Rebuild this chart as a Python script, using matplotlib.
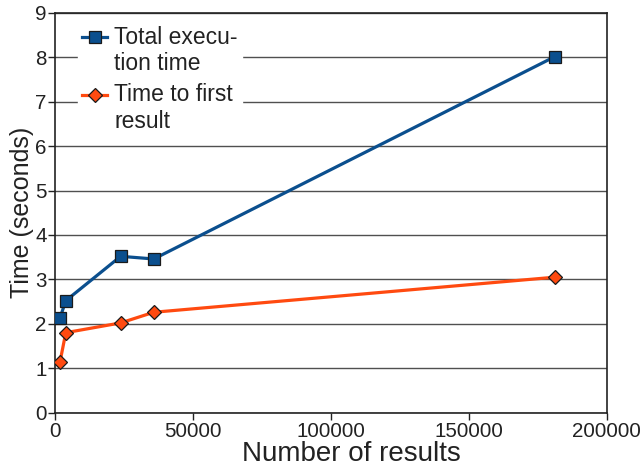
import matplotlib
matplotlib.use("Agg")
import matplotlib.pyplot as plt
import numpy as np
from matplotlib.legend_handler import HandlerLine2D

plt.rcParams['font.family'] = ['Liberation Sans', 'DejaVu Sans']

results = [1800, 3900, 23800, 35800, 181300]
total_time = [2.13, 2.52, 3.52, 3.46, 8.02]
first_result = [1.14, 1.80, 2.02, 2.26, 3.05]

blue = '#0b4f8e'
orange = '#ff4a10'


class TopLineHandler(HandlerLine2D):
    """Place the legend handle beside the first line of a two-line label."""
    def __init__(self, shift, **kw):
        super().__init__(**kw)
        self.shift = shift

    def create_artists(self, legend, orig_handle, xdescent, ydescent, width,
                       height, fontsize, trans):
        arts = super().create_artists(legend, orig_handle, xdescent, ydescent,
                                      width, height, fontsize, trans)
        for a in arts:
            a.set_ydata(np.asarray(a.get_ydata(), dtype=float) + self.shift)
        return arts


fig = plt.figure(figsize=(6.42, 4.71), dpi=100)
ax = fig.add_axes([0.0857, 0.124, 0.8593, 0.8484])

l1, = ax.plot(results, total_time, color=blue, lw=2.3, marker='s', ms=9,
              markerfacecolor=blue, markeredgecolor='#1a1a1a', markeredgewidth=0.9,
              label='Total execu-\ntion time', zorder=3)
l2, = ax.plot(results, first_result, color=orange, lw=2.3, marker='D', ms=7.5,
              markerfacecolor=orange, markeredgecolor='#1a1a1a', markeredgewidth=0.9,
              label='Time to first\nresult', zorder=3)

ax.set_xlim(0, 200000)
ax.set_ylim(0, 9)
ax.set_xticks([0, 50000, 100000, 150000, 200000])
ax.set_yticks(range(0, 10))
ax.yaxis.grid(True, color='#505050', lw=1.0)
ax.set_axisbelow(True)
for s in ax.spines.values():
    s.set_color('#222222')
    s.set_linewidth(1.2)
ax.tick_params(labelsize=14.8, colors='#222222', length=5, width=1.0)
ax.tick_params(axis='x', pad=2)
ax.tick_params(axis='y', pad=1)
ax.set_xlabel('Number of results', fontsize=20, color='#222222', labelpad=0)
ax.xaxis.label.set_x(0.537)
ax.set_ylabel('Time (seconds)', fontsize=18, color='#222222', labelpad=1)

h = TopLineHandler(shift=10.5)
leg = ax.legend(loc='upper left', bbox_to_anchor=(0.02, 1.008), fontsize=16.5,
                frameon=True, fancybox=False, edgecolor='white', framealpha=1,
                handlelength=1.1, handletextpad=0.3, labelspacing=0.35,
                borderpad=0.2, handler_map={l1: h, l2: h})
for t in leg.get_texts():
    t.set_color('#222222')
    t.set_linespacing(1.2)

fig.savefig('out.png', dpi=100)
